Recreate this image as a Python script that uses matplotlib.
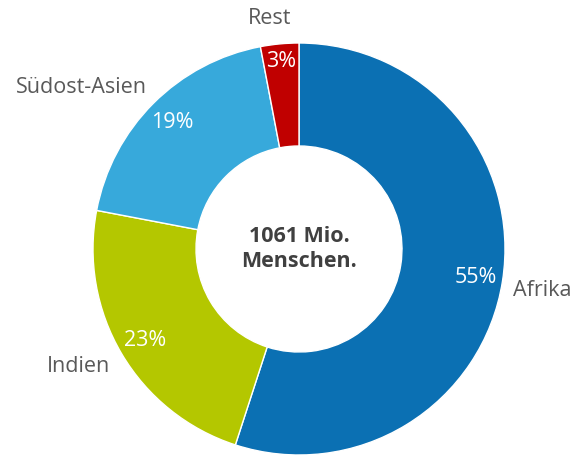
import matplotlib
matplotlib.use("Agg")
import matplotlib.pyplot as plt

plt.rcParams['font.family'] = ['Open Sans', 'DejaVu Sans']

regions = ["Afrika", "Indien", "Südost-Asien", "Rest"]
shares = [55, 23, 19, 3]
colors = ["#0b70b3", "#b4c700", "#37a9db", "#c00000"]
center_text = "1061 Mio.\nMenschen."

fig = plt.figure(figsize=(5.88, 4.69), dpi=100)

# pie centre and radius in pixels
cx, cy = 299 / 588, 1 - 249 / 469
rx, ry = 206 / 588, 206 / 469
ax = fig.add_axes([cx - rx, cy - ry, 2 * rx, 2 * ry])

wedges, texts, autotexts = ax.pie(
    shares, labels=regions, colors=colors, startangle=90, counterclock=False,
    autopct="%d%%", pctdistance=0.87, labeldistance=1.07,
    wedgeprops=dict(width=0.5, edgecolor="white", linewidth=1),
    textprops=dict(fontsize=15.5, color="#595959"),
)
for t in autotexts:
    t.set_color("white")
    t.set_fontsize(15.5)

# the small "3%" sits a bit further out in the reference
x, y = autotexts[3].get_position()
autotexts[3].set_position((x * 1.05, y * 1.05))

# outside labels placed like the Excel "best fit" layout
label_xy = [(1.04, -0.2), (-0.917, -0.568), (-0.738, 0.786), (-0.04, 1.12)]
for t, xy in zip(texts, label_xy):
    t.set_position(xy)

ax.text(0, 0, center_text, ha="center", va="center", fontsize=15.5,
        fontweight="bold", color="#404040", linespacing=1.25)

ax.set_xlim(-1, 1)
ax.set_ylim(-1, 1)
ax.set_aspect("auto")
ax.axis("off")

fig.savefig("out.png", dpi=100)
